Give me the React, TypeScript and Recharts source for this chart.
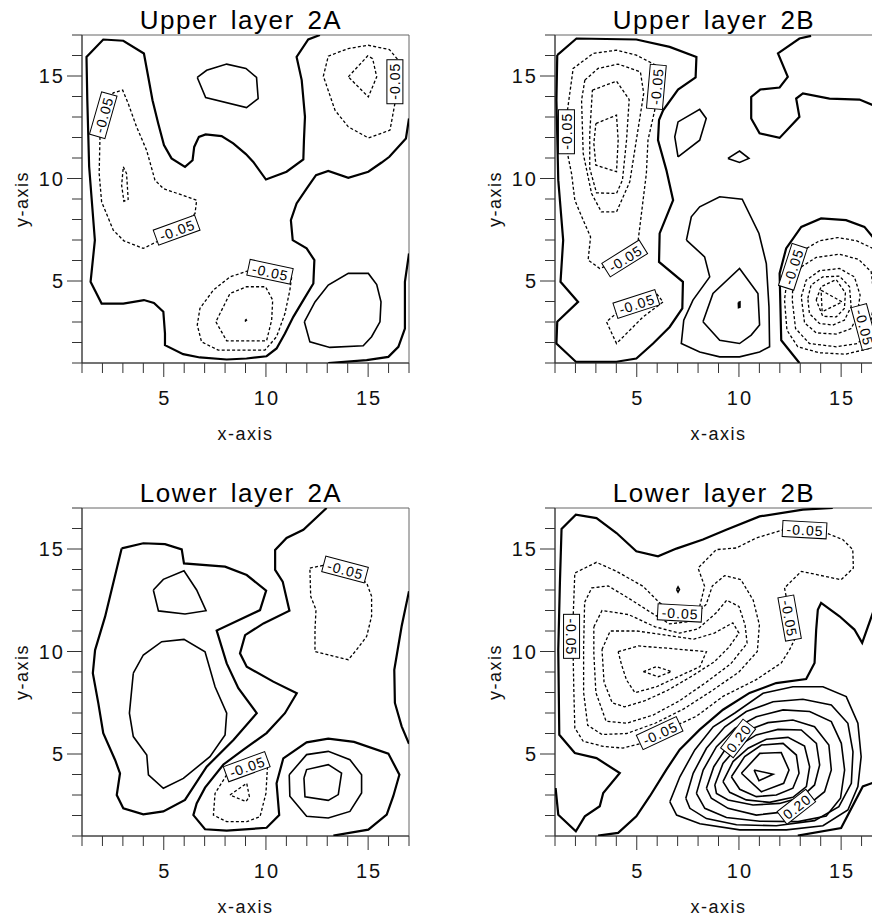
import React from 'react';
import { ScatterChart, Scatter, XAxis, YAxis, ReferenceArea } from 'recharts';

type Pt = [number, number];
type Kind = 'zero' | 'pos' | 'neg';
type BoxLabel = { x: number; y: number; text: string; angle: number };

const axisTicks = [1, 2, 3, 4, 5, 6, 7, 8, 9, 10, 11, 12, 13, 14, 15, 16, 17];
const labeledTicks = [5, 10, 15];
const panelTitles = ['Upper layer 2A', 'Upper layer 2B', 'Lower layer 2A', 'Lower layer 2B'];

// ---------- Upper layer 2A ----------
const u2aZero1: Pt[] = [
  [12.64, 17], [12.07, 16.78], [11.5, 15.93], [11.75, 14.8], [11.91, 13.01], [11.86, 11.87], [11.83, 10.93],
  [11.01, 10.33], [10.0, 9.95], [9.38, 10.81], [9.02, 11.19], [8.4, 11.71], [7.83, 12.07], [7.05, 12.15],
  [6.72, 12.03], [6.49, 11.54], [6.41, 10.89], [6.04, 10.57], [5.38, 10.98], [5.01, 11.63], [4.73, 12.68],
  [4.45, 13.82], [4.24, 14.96], [4.03, 16.1], [3.02, 16.72], [2.04, 16.78], [1.22, 15.93], [1.26, 13.82],
  [1.35, 10.57], [1.63, 6.99], [1.42, 4.96], [1.96, 3.9], [3.02, 3.9], [4.03, 4.07], [4.52, 3.93], [4.98, 3.5],
  [5.06, 2.44], [5.06, 1.87], [5.95, 1.43], [6.77, 1.27], [8.08, 1.17], [9.05, 1.22], [10.03, 1.33],
  [10.52, 1.71], [10.93, 2.44], [11.34, 3.25], [11.83, 4.07], [12.32, 4.88], [12.37, 6.02], [11.99, 6.59],
  [11.31, 6.99], [11.22, 7.97], [11.5, 8.78], [11.99, 9.51], [12.45, 10.16], [13.05, 10.37], [14.03, 10.03],
  [15.01, 10.33], [15.66, 10.78], [16.04, 11.06], [16.85, 11.95], [17, 12.93],
];
const u2aZero2: Pt[] = [[13.05, 1], [14.93, 1.14], [15.99, 1.3], [16.48, 1.79], [16.8, 2.68], [16.8, 4.96], [17, 6.34]];
const u2aPos1: Pt[] = [[6.64, 14.93], [7.1, 15.28], [8.08, 15.58], [9.02, 15.37], [9.54, 14.93], [9.62, 13.9], [9.05, 13.46], [7.05, 13.95], [6.64, 14.93]];
const u2aPos2: Pt[] = [[11.88, 3.01], [12.15, 2.03], [13.13, 1.76], [14.76, 1.84], [15.17, 2.28], [15.58, 3.01], [15.63, 3.98], [15.42, 4.83], [15.01, 5.37], [14.03, 5.37], [13.05, 4.8], [12.4, 3.98], [11.88, 3.01]];
const u2aNeg1: Pt[] = [
  [1.88, 12.03], [1.84, 10.24], [1.96, 8.86], [2.53, 7.48], [3.05, 6.96], [4.0, 6.59], [4.98, 7.07], [6.53, 8.29],
  [6.61, 8.94], [4.98, 9.51], [4.57, 9.92], [4.16, 11.38], [3.67, 12.52], [3.26, 13.66], [2.99, 14.31], [2.53, 14.18],
  [2.1, 13.3], [1.88, 12.03],
];
const u2aNeg2: Pt[] = [[3.02, 10.57], [3.18, 10.24], [3.26, 8.98], [3.05, 8.89], [2.94, 9.67], [3.02, 10.57]];
const u2aNeg3: Pt[] = [[16.31, 13.66], [16.07, 12.36], [15.01, 11.98], [14.03, 12.52], [13.38, 13.33], [12.81, 14.99], [13.05, 15.97], [14.03, 16.34], [15.01, 16.5], [16.04, 16.29], [16.48, 15.77], [16.35, 14.7], [16.31, 13.66]];
const u2aNeg4: Pt[] = [[14.03, 14.96], [14.98, 15.98], [15.22, 15.85], [15.42, 14.96], [15.01, 13.98], [14.03, 14.96]];
const u2aNeg5: Pt[] = [[9.14, 5.5], [8.24, 5.2], [7.42, 4.55], [6.77, 3.66], [6.64, 2.85], [6.85, 2.03], [7.67, 1.63], [9.95, 1.63], [10.52, 2.28], [10.93, 3.41], [11.17, 4.55], [11.26, 5.2], [10.2, 5.45], [9.14, 5.5]];
const u2aNeg6: Pt[] = [[7.55, 3.01], [8.08, 2.08], [10.03, 2.08], [10.28, 3.09], [10.33, 4.07], [9.98, 4.72], [9.05, 4.72], [8.24, 4.39], [7.55, 3.01]];
const u2aNeg7: Pt[] = [[8.98, 3.07], [9.03, 3.12], [9.07, 3.05], [9.02, 2.99], [8.98, 3.07]];
const u2aLabels: BoxLabel[] = [
  { x: 2.04, y: 13.09, text: '-0.05', angle: -74 },
  { x: 5.63, y: 7.48, text: '-0.05', angle: -20 },
  { x: 10.2, y: 5.45, text: '-0.05', angle: 12 },
  { x: 16.31, y: 14.72, text: '-0.05', angle: -90 },
];

// ---------- Upper layer 2B ----------
const u2bZero1: Pt[] = [
  [1.11, 16.02], [1.07, 13.82], [1.16, 9.92], [1.4, 6.99], [1.27, 4.96], [2.13, 3.98], [1.11, 3.01], [1.07, 1.95],
  [2.02, 1.06], [4.01, 1.06], [4.98, 1.22], [5.8, 1.95], [6.61, 2.76], [7.23, 3.66], [7.26, 4.96], [6.09, 5.93],
  [6.12, 7.32], [6.78, 8.94], [6.45, 10.41], [6.04, 11.87], [6.09, 12.85], [6.29, 13.33], [7.02, 14.34],
  [7.88, 14.93], [7.92, 15.93], [6.61, 16.42], [4.98, 16.78], [2.05, 16.83], [1.11, 16.02],
];
const u2bZero2: Pt[] = [
  [13.53, 16.96], [12.96, 16.83], [11.91, 16.1], [12.39, 14.96], [11.99, 14.44], [11.04, 14.34], [10.6, 13.98],
  [10.6, 12.93], [11.01, 12.2], [11.99, 11.98], [12.96, 13.01], [12.8, 13.9], [13.13, 14.15], [14.43, 13.9],
  [15.9, 13.85], [16.55, 13.58], [17, 13.35],
];
const u2bZero3: Pt[] = [[12.96, 1.0], [12.07, 2.11], [11.99, 5.37], [12.31, 6.59], [13.05, 7.64], [14.02, 8.05], [15.24, 7.97], [16.14, 7.64], [16.55, 7.15], [16.95, 6.34], [17, 5.8]];
const u2bPos1: Pt[] = [[7.02, 11.06], [6.86, 12.03], [7.02, 12.76], [8.08, 13.37], [8.4, 12.93], [8.08, 11.87], [7.02, 11.06]];
const u2bPos2: Pt[] = [[9.46, 10.98], [10.03, 11.34], [10.49, 10.98], [10.03, 10.78], [9.46, 10.98]];
const u2bPos3: Pt[] = [
  [7.43, 6.99], [7.67, 8.13], [8.08, 8.62], [9.06, 9.11], [10.16, 8.99], [10.98, 7.32], [11.34, 5.85], [11.47, 3.74],
  [11.5, 1.79], [11.01, 1.54], [10.03, 1.3], [9.06, 1.3], [8.08, 1.54], [7.18, 1.95], [7.3, 3.09], [7.75, 4.07],
  [8.57, 5.2], [8.32, 6.18], [7.43, 6.99],
];
const u2bPos4: Pt[] = [[8.24, 3.01], [8.73, 4.39], [10.03, 5.61], [10.93, 4.39], [11.01, 2.85], [10.6, 2.36], [10.03, 1.95], [9.06, 2.11], [8.24, 3.01]];
const u2bPos5: Pt[] = [[9.97, 3.95], [10.05, 3.98], [10.05, 3.72], [9.98, 3.7], [9.97, 3.95]];
const u2bNeg1: Pt[] = [
  [1.61, 13.33], [1.89, 15.37], [2.87, 16.1], [4.01, 16.26], [4.98, 16.02], [5.93, 15.53], [5.96, 14.47],
  [5.88, 13.33], [5.55, 11.87], [5.47, 10.24], [5.23, 8.29], [5.07, 6.99], [4.41, 6.1], [3.19, 5.61], [2.62, 6.02],
  [2.74, 7.15], [2.38, 7.97], [1.97, 8.94], [1.81, 10.24], [1.61, 11.22], [1.56, 12.28], [1.61, 13.33],
];
const u2bNeg2: Pt[] = [[2.46, 14.8], [3.11, 15.37], [4.09, 15.58], [5.18, 15.2], [5.34, 14.15], [4.98, 11.87], [4.66, 9.84], [4.01, 8.37], [3.27, 8.37], [2.79, 9.27], [2.38, 11.22], [2.3, 13.82], [2.46, 14.8]];
const u2bNeg3: Pt[] = [[2.83, 14.31], [4.01, 14.75], [4.63, 13.85], [4.5, 11.87], [4.3, 9.92], [4.01, 9.27], [3.03, 9.3], [2.7, 10.49], [2.7, 12.2], [2.83, 14.31]];
const u2bNeg4: Pt[] = [[3.0, 12.68], [4.01, 13.09], [4.09, 11.87], [4.01, 10.33], [3.0, 10.65], [2.9, 11.71], [3.0, 12.68]];
const u2bNeg5: Pt[] = [[4.09, 3.5], [3.52, 3.01], [4.01, 1.95], [5.31, 3.25], [6.29, 3.98], [5.96, 4.39], [4.98, 3.9], [4.09, 3.5]];
const u2bNeg6: Pt[] = [[12.88, 6.34], [13.94, 6.96], [14.84, 7.12], [15.77, 6.96], [16.55, 6.59], [17, 5.7], [17, 2.6], [16.38, 1.71], [15.24, 1.43], [13.94, 1.5], [12.88, 1.79], [12.35, 2.6], [12.23, 4.07], [12.31, 4.72], [12.64, 5.69], [12.88, 6.34]];
const u2bNeg7: Pt[] = [[13.05, 5.69], [13.78, 6.15], [14.92, 6.31], [15.86, 6.05], [16.47, 5.45], [16.63, 4.07], [16.38, 2.6], [15.81, 1.95], [14.76, 1.79], [13.45, 1.95], [12.77, 2.68], [12.61, 4.07], [12.64, 4.88], [13.05, 5.69]];
const u2bNeg8: Pt[] = [[13.05, 4.23], [13.29, 5.04], [13.94, 5.5], [14.92, 5.61], [15.65, 5.2], [15.93, 4.31], [15.77, 3.25], [15.49, 2.68], [14.76, 2.41], [13.78, 2.47], [13.21, 2.96], [13.05, 4.23]];
const u2bNeg9: Pt[] = [[13.37, 4.15], [13.53, 4.8], [14.1, 5.2], [14.92, 5.24], [15.41, 4.72], [15.49, 3.74], [15.16, 3.09], [14.59, 2.85], [13.94, 2.93], [13.45, 3.41], [13.37, 4.15]];
const u2bNeg10: Pt[] = [[13.78, 4.07], [14.02, 4.72], [14.76, 5.07], [15.21, 4.42], [15.16, 3.66], [14.76, 3.25], [14.1, 3.28], [13.78, 4.07]];
const u2bNeg11: Pt[] = [[14.02, 4.55], [15.05, 3.98], [14.07, 3.5], [14.02, 4.55]];
const u2bLabels: BoxLabel[] = [
  { x: 1.56, y: 12.28, text: '-0.05', angle: -90 },
  { x: 5.96, y: 14.47, text: '-0.05', angle: -85 },
  { x: 4.41, y: 6.1, text: '-0.05', angle: -32 },
  { x: 4.98, y: 3.88, text: '-0.05', angle: -18 },
  { x: 12.64, y: 5.69, text: '-0.05', angle: -72 },
  { x: 16.14, y: 2.76, text: '-0.05', angle: 75 },
];

// ---------- Lower layer 2A ----------
const l2aZero1: Pt[] = [
  [2.94, 15.03], [4.0, 15.28], [5.06, 15.24], [5.88, 14.98], [5.99, 14.3], [8.0, 14.14], [9.06, 13.73], [10.01, 12.97],
  [9.71, 12.02], [7.59, 11.02], [8.08, 9.42], [8.65, 8.21], [9.55, 6.99], [8.41, 5.68], [7.1, 4.38], [6.04, 2.76],
  [4.98, 2.2], [4.0, 2.06], [3.02, 2.35], [2.7, 3.0], [2.86, 4.06], [2.62, 4.71], [2.04, 6.01], [1.8, 7.47],
  [1.53, 8.94], [1.64, 10.07], [2.13, 11.7], [2.94, 15.03],
];
const l2aZero2: Pt[] = [
  [12.97, 17], [11.83, 15.94], [11.01, 15.54], [10.45, 14.95], [10.45, 13.98], [10.82, 13.41], [11.15, 11.99],
  [9.88, 11.37], [8.98, 10.8], [8.73, 9.91], [9.06, 9.26], [10.36, 8.53], [11.51, 7.96], [10.93, 6.99], [10.03, 6.02],
  [8.9, 5.21], [7.92, 4.49], [7.02, 3.36], [6.61, 2.59], [6.45, 2.02], [7.02, 1.33], [8.08, 1.26], [10.03, 1.4],
  [10.65, 2.02], [10.52, 3.57], [10.85, 4.79], [11.99, 5.57], [13.05, 5.75], [14.31, 5.59], [15.99, 5.02],
  [16.53, 3.99], [16.23, 2.94], [15.91, 2.04], [15.01, 1.31], [13.3, 1.02],
];
const l2aZero3: Pt[] = [[17, 12.94], [16.64, 11.23], [16.28, 9.11], [16.31, 7.49], [16.64, 6.35], [17, 5.5]];
const l2aPos1: Pt[] = [[3.51, 8.94], [4.0, 9.83], [4.9, 10.48], [5.99, 10.59], [7.02, 9.99], [7.51, 8.28], [8.08, 6.99], [8.0, 5.93], [7.26, 4.87], [5.96, 3.81], [4.98, 3.33], [4.25, 3.98], [4.17, 4.95], [3.51, 5.85], [3.32, 6.99], [3.51, 8.94]];
const l2aPos2: Pt[] = [[4.49, 13.0], [4.98, 13.52], [5.99, 13.94], [6.61, 13.0], [7.07, 11.99], [6.04, 11.83], [4.74, 11.98], [4.49, 13.0]];
const l2aPos3: Pt[] = [[11.14, 3.99], [11.99, 4.97], [13.05, 5.13], [14.11, 4.72], [14.68, 3.99], [14.68, 3.1], [14.11, 2.2], [13.05, 1.88], [11.99, 1.96], [11.17, 2.94], [11.14, 3.99]];
const l2aPos4: Pt[] = [[11.86, 3.83], [11.99, 4.24], [13.05, 4.48], [13.7, 4.07], [13.54, 3.02], [13.05, 2.74], [11.91, 2.91], [11.86, 3.83]];
const l2aNeg1: Pt[] = [[12.15, 14.07], [12.8, 14.2], [13.87, 14.0], [14.93, 13.34], [15.17, 12.69], [15.17, 11.72], [14.93, 10.74], [14.44, 10.09], [14.03, 9.6], [13.3, 9.77], [12.4, 10.0], [12.4, 11.06], [12.45, 12.04], [12.19, 12.69], [12.15, 14.07]];
const l2aNeg2: Pt[] = [[8.08, 3.98], [7.51, 3.08], [7.43, 2.02], [8.08, 1.7], [9.06, 1.7], [9.71, 1.94], [10.0, 3.08], [10.09, 4.63], [9.06, 4.38], [8.08, 3.98]];
const l2aNeg3: Pt[] = [[8.24, 3.0], [9.06, 3.57], [9.19, 2.92], [9.02, 2.68], [8.24, 3.0]];
const l2aLabels: BoxLabel[] = [
  { x: 13.87, y: 14.0, text: '-0.05', angle: 15 },
  { x: 9.06, y: 4.38, text: '-0.05', angle: -20 },
];

// ---------- Lower layer 2B ----------
const l2bZero1: Pt[] = [
  [1.03, 3.34], [1.16, 2.04], [2.02, 1.23], [2.46, 1.96], [3.19, 2.45], [3.36, 3.1], [4.17, 4.07], [3.03, 4.8],
  [1.97, 5.05], [1.21, 5.94], [1.16, 10.09], [1.24, 13.34], [1.32, 15.98], [2.02, 16.67], [3.03, 16.51],
  [4.01, 15.78], [4.98, 14.89], [6.04, 14.64], [6.94, 15.02], [8.24, 15.46], [9.38, 15.94], [11.01, 16.59],
  [13.13, 16.92], [14.59, 17],
];
const l2bZero2: Pt[] = [
  [3.11, 1.02], [4.09, 1.15], [4.98, 1.96], [5.64, 2.94], [6.45, 4.24], [7.1, 5.21], [8.08, 6.19], [9.22, 7.16],
  [10.52, 7.98], [11.82, 8.46], [13.29, 8.66], [13.7, 9.44], [13.78, 11.07], [13.86, 12.04], [14.02, 12.37],
  [14.92, 11.72], [15.65, 11.07], [16.03, 10.42], [16.55, 11.88], [17, 13.0],
];
const l2bZero3: Pt[] = [[12.88, 1.02], [15.0, 1.39], [16.06, 3.42], [16.55, 3.59], [17, 3.7]];
const l2bPos1: Pt[] = [[6.95, 13.02], [7.02, 13.15], [7.09, 13.02], [7.02, 12.9], [6.95, 13.02]];
const l2bPos2: Pt[] = [[6.62, 2.67], [7.11, 3.89], [7.84, 5.2], [8.74, 6.33], [9.8, 7.0], [11.18, 7.96], [12.64, 8.28], [14.11, 8.28], [15.25, 7.8], [15.82, 6.5], [15.98, 4.87], [15.82, 3.41], [15.33, 2.27], [14.11, 1.5], [12.32, 1.3], [10.04, 1.3], [8.09, 1.6], [6.95, 2.02], [6.62, 2.67]];
const l2bPos3: Pt[] = [[7.4, 2.84], [7.76, 4.06], [8.41, 5.28], [9.31, 6.33], [10.36, 7.07], [11.67, 7.55], [13.13, 7.67], [14.52, 7.39], [15.33, 6.5], [15.58, 5.11], [15.5, 3.57], [14.89, 2.43], [13.7, 1.75], [11.83, 1.5], [9.88, 1.55], [8.41, 1.85], [7.6, 2.35], [7.4, 2.84]];
const l2bPos4: Pt[] = [[7.92, 3.08], [8.25, 4.22], [8.9, 5.36], [9.8, 6.25], [10.85, 6.82], [12.16, 7.15], [13.46, 7.07], [14.52, 6.58], [15.01, 5.52], [15.17, 4.22], [14.97, 2.84], [14.27, 1.98], [12.89, 1.7], [11.02, 1.72], [9.39, 1.9], [8.33, 2.35], [7.92, 3.08]];
const l2bPos5: Pt[] = [[8.41, 3.33], [8.77, 4.38], [9.47, 5.44], [10.36, 6.14], [11.42, 6.53], [12.64, 6.66], [13.7, 6.33], [14.4, 5.44], [14.52, 4.22], [14.19, 3.16], [13.38, 2.51], [12.32, 2.19], [10.85, 2.02], [9.47, 2.35], [8.65, 2.84], [8.41, 3.33]];
const l2bPos6: Pt[] = [[8.82, 3.49], [9.22, 4.54], [9.96, 5.39], [10.85, 5.93], [11.91, 6.2], [13.05, 6.17], [13.79, 5.52], [13.95, 4.46], [13.7, 3.49], [13.05, 2.89], [11.99, 2.59], [10.69, 2.51], [9.47, 2.76], [8.9, 3.08], [8.82, 3.49]];
const l2bPos7: Pt[] = [[9.22, 3.65], [9.71, 4.63], [10.45, 5.28], [11.34, 5.72], [12.4, 5.81], [13.21, 5.39], [13.46, 4.38], [13.3, 3.41], [12.64, 2.89], [11.5, 2.64], [10.36, 2.76], [9.55, 3.13], [9.22, 3.65]];
const l2bPos8: Pt[] = [[9.63, 3.89], [10.28, 4.87], [11.1, 5.44], [12.16, 5.52], [12.81, 4.95], [12.94, 4.06], [12.64, 3.33], [11.83, 3.0], [10.85, 2.92], [10.04, 3.28], [9.63, 3.89]];
const l2bPos9: Pt[] = [[10.12, 4.06], [11.02, 5.03], [12.07, 5.07], [12.45, 4.22], [12.19, 3.57], [11.1, 3.16], [10.12, 4.06]];
const l2bPos10: Pt[] = [[10.74, 4.22], [11.67, 4.01], [10.98, 3.7], [10.74, 4.22]];
const l2bNeg1: Pt[] = [
  [7.1, 11.88], [8.08, 12.2], [8.32, 13.18], [8.0, 14.07], [8.89, 14.97], [9.87, 15.05], [10.85, 15.54],
  [12.31, 15.98], [13.21, 15.94], [14.27, 15.78], [15.08, 15.46], [15.57, 14.97], [15.6, 14.07], [15.0, 13.5],
  [13.05, 13.91], [12.23, 13.1], [12.31, 12.69], [12.48, 11.63], [12.8, 10.74], [12.48, 10.09], [12.07, 9.44],
  [10.85, 8.63], [9.22, 7.81], [7.92, 6.84], [6.12, 6.02], [5.31, 5.54], [4.33, 5.29], [3.36, 5.37], [2.38, 5.62],
  [1.97, 6.27], [1.92, 8.14], [1.89, 9.76], [1.81, 10.74], [1.89, 11.72], [1.97, 13.83], [3.03, 14.35],
  [4.01, 13.91], [5.31, 13.18], [6.12, 12.37], [7.1, 11.88],
];
const l2bNeg2: Pt[] = [[2.45, 12.4], [2.8, 13.1], [3.6, 13.2], [4.6, 12.6], [5.7, 11.9], [6.6, 11.35], [7.5, 11.45], [8.4, 12.3], [8.7, 13.2], [9.3, 13.7], [10.1, 13.5], [10.7, 12.5], [11.0, 11.3], [10.9, 10.0], [10.0, 9.0], [8.7, 8.1], [7.3, 7.2], [5.9, 6.5], [4.5, 6.0], [3.3, 5.95], [2.6, 6.4], [2.4, 8.0], [2.4, 10.2], [2.45, 12.4]];
const l2bNeg3: Pt[] = [[2.9, 11.2], [3.3, 12.0], [4.6, 11.8], [5.9, 11.2], [7.1, 10.9], [8.0, 11.1], [8.9, 11.9], [9.4, 12.5], [10.0, 12.2], [10.3, 11.3], [10.4, 10.4], [9.6, 9.4], [8.4, 8.5], [7.1, 7.6], [5.8, 6.9], [4.5, 6.5], [3.5, 6.6], [3.0, 8.0], [2.9, 9.9], [2.9, 11.2]];
const l2bNeg4: Pt[] = [[3.3, 10.1], [3.7, 11.0], [5.0, 11.0], [6.4, 10.8], [7.8, 10.6], [8.8, 10.9], [9.7, 11.4], [10.0, 10.9], [9.5, 10.2], [8.8, 9.5], [7.7, 8.8], [6.5, 8.1], [5.4, 7.6], [4.4, 7.3], [3.8, 7.5], [3.4, 8.5], [3.3, 10.1]];
const l2bNeg5: Pt[] = [[4.09, 9.99], [5.07, 10.27], [6.62, 10.15], [8.41, 9.99], [8.09, 9.26], [6.95, 8.74], [5.97, 8.28], [4.91, 7.99], [4.5, 8.61], [4.26, 9.34], [4.09, 9.99]];
const l2bNeg6: Pt[] = [[5.32, 9.02], [5.97, 9.26], [6.7, 9.02], [6.05, 8.77], [5.32, 9.02]];
const l2bLabels: BoxLabel[] = [
  { x: 1.81, y: 10.74, text: '-0.05', angle: 90 },
  { x: 7.1, y: 11.88, text: '-0.05', angle: 3 },
  { x: 12.48, y: 11.63, text: '-0.05', angle: 80 },
  { x: 13.21, y: 15.94, text: '-0.05', angle: 3 },
  { x: 6.12, y: 6.02, text: '-0.05', angle: -25 },
  { x: 9.96, y: 5.76, text: '0.20', angle: -52 },
  { x: 12.81, y: 2.43, text: '0.20', angle: -38 },
];

type Contour = { pts: Pt[]; kind: Kind };
const z = (pts: Pt[]): Contour => ({ pts, kind: 'zero' });
const p = (pts: Pt[]): Contour => ({ pts, kind: 'pos' });
const n = (pts: Pt[]): Contour => ({ pts, kind: 'neg' });

const panels = [
  {
    left: 0, top: 0, labels: u2aLabels,
    contours: [z(u2aZero1), z(u2aZero2), p(u2aPos1), p(u2aPos2), n(u2aNeg1), n(u2aNeg2), n(u2aNeg3), n(u2aNeg4), n(u2aNeg5), n(u2aNeg6), n(u2aNeg7)],
  },
  {
    left: 473, top: 0, labels: u2bLabels,
    contours: [z(u2bZero1), z(u2bZero2), z(u2bZero3), p(u2bPos1), p(u2bPos2), p(u2bPos3), p(u2bPos4), p(u2bPos5),
      n(u2bNeg1), n(u2bNeg2), n(u2bNeg3), n(u2bNeg4), n(u2bNeg5), n(u2bNeg6), n(u2bNeg7), n(u2bNeg8), n(u2bNeg9), n(u2bNeg10), n(u2bNeg11)],
  },
  {
    left: 0, top: 473, labels: l2aLabels,
    contours: [z(l2aZero1), z(l2aZero2), z(l2aZero3), p(l2aPos1), p(l2aPos2), p(l2aPos3), p(l2aPos4), n(l2aNeg1), n(l2aNeg2), n(l2aNeg3)],
  },
  {
    left: 473, top: 473, labels: l2bLabels,
    contours: [z(l2bZero1), z(l2bZero2), z(l2bZero3), p(l2bPos1), p(l2bPos2), p(l2bPos3), p(l2bPos4), p(l2bPos5), p(l2bPos6),
      p(l2bPos7), p(l2bPos8), p(l2bPos9), p(l2bPos10), n(l2bNeg1), n(l2bNeg2), n(l2bNeg3), n(l2bNeg4), n(l2bNeg5), n(l2bNeg6)],
  },
];

const FONT = '"Liberation Sans", Arial, Helvetica, sans-serif';

const lineStyle: Record<Kind, { stroke: string; strokeWidth: number; strokeDasharray?: string }> = {
  zero: { stroke: '#000', strokeWidth: 2.2 },
  pos: { stroke: '#000', strokeWidth: 1.6 },
  neg: { stroke: '#000', strokeWidth: 1.3, strokeDasharray: '3 2.2' },
};

const noDot = () => <g />;

const XTick = (props: any) => {
  const { x, y, payload } = props;
  const major = labeledTicks.includes(payload.value);
  return (
    <g>
      <line x1={x} y1={y} x2={x} y2={y + (major ? 14 : 10)} stroke="#333" strokeWidth={1} />
      {major && (
        <text x={x + 1} y={y + 42} textAnchor="middle" fontSize={20} letterSpacing={2} fill="#111" fontFamily={FONT}>
          {payload.value}
        </text>
      )}
    </g>
  );
};

const YTick = (props: any) => {
  const { x, y, payload } = props;
  const major = labeledTicks.includes(payload.value);
  return (
    <g>
      <line x1={x} y1={y} x2={x - (major ? 15 : 10)} y2={y} stroke="#333" strokeWidth={1} />
      {major && (
        <text x={x - 17} y={y} textAnchor="end" dominantBaseline="central" fontSize={20} letterSpacing={2} fill="#111" fontFamily={FONT}>
          {payload.value}
        </text>
      )}
    </g>
  );
};

const XTitle = (props: any) => {
  const vb = props.viewBox || { x: 82, y: 363, width: 327, height: 75 };
  return (
    <text x={vb.x + vb.width / 2} y={vb.y + 77} textAnchor="middle" fontSize={18} letterSpacing={1.5} fill="#111" fontFamily={FONT}>
      x-axis
    </text>
  );
};

const YTitle = (props: any) => {
  const vb = props.viewBox || { x: 22, y: 35, width: 60, height: 328 };
  const cx = vb.x;
  const cy = vb.y + vb.height / 2;
  return (
    <text x={cx} y={cy} transform={`rotate(-90 ${cx} ${cy})`} textAnchor="middle" dominantBaseline="central" fontSize={18} letterSpacing={1.5} fill="#111" fontFamily={FONT}>
      y-axis
    </text>
  );
};

const LabelBox = (props: any) => {
  const { cx, cy, payload } = props;
  if (cx == null || cy == null) return <g />;
  const w = payload.text.length * 7.6 + 6;
  return (
    <g transform={`translate(${cx},${cy}) rotate(${payload.angle})`}>
      <rect x={-w / 2} y={-8} width={w} height={16} fill="#fff" stroke="#000" strokeWidth={1} />
      <text x={0.5} y={0.5} textAnchor="middle" dominantBaseline="central" fontSize={14} letterSpacing={1} fill="#000" fontFamily={FONT}>
        {payload.text}
      </text>
    </g>
  );
};

function Panel({ title, contours, labels, left, top }: { title: string; contours: Contour[]; labels: BoxLabel[]; left: number; top: number }) {
  return (
    <div style={{ position: 'absolute', left, top, width: 436, height: 458 }}>
      <div
        style={{
          position: 'absolute', left: 91, top: 7, width: 300, textAlign: 'center',
          fontFamily: FONT, fontSize: 26, lineHeight: '26px', letterSpacing: 1.5, wordSpacing: 4, color: '#000',
        }}
      >
        {title}
      </div>
      <ScatterChart width={436} height={458} margin={{ top: 35, right: 27, bottom: 20, left: 22 }}>
        <XAxis
          type="number" dataKey="x" domain={[1, 17]} ticks={axisTicks} interval={0} allowDataOverflow
          tickSize={0} tickMargin={0} tickLine={false} axisLine={{ stroke: '#333' }} height={75}
          tick={XTick} label={XTitle}
        />
        <YAxis
          type="number" dataKey="y" domain={[1, 17]} ticks={axisTicks} interval={0} allowDataOverflow
          tickSize={0} tickMargin={0} tickLine={false} axisLine={{ stroke: '#333' }} width={60}
          tick={YTick} label={YTitle}
        />
        <ReferenceArea x1={1} x2={17} y1={1} y2={17} fill="none" fillOpacity={0} stroke="#666" strokeWidth={1} />
        {contours.map((c, i) => (
          <Scatter
            key={i}
            data={c.pts.map(([x, y]) => ({ x, y }))}
            line={lineStyle[c.kind]}
            shape={noDot}
            fill="none"
            isAnimationActive={false}
          />
        ))}
        <Scatter data={labels} shape={LabelBox} isAnimationActive={false} />
      </ScatterChart>
    </div>
  );
}

export default function App() {
  return (
    <div style={{ position: 'absolute', left: 0, top: 0, width: 872, height: 917, overflow: 'hidden', background: '#fff' }}>
      {panels.map((pn, i) => (
        <Panel key={i} title={panelTitles[i]} contours={pn.contours} labels={pn.labels} left={pn.left} top={pn.top} />
      ))}
    </div>
  );
}
